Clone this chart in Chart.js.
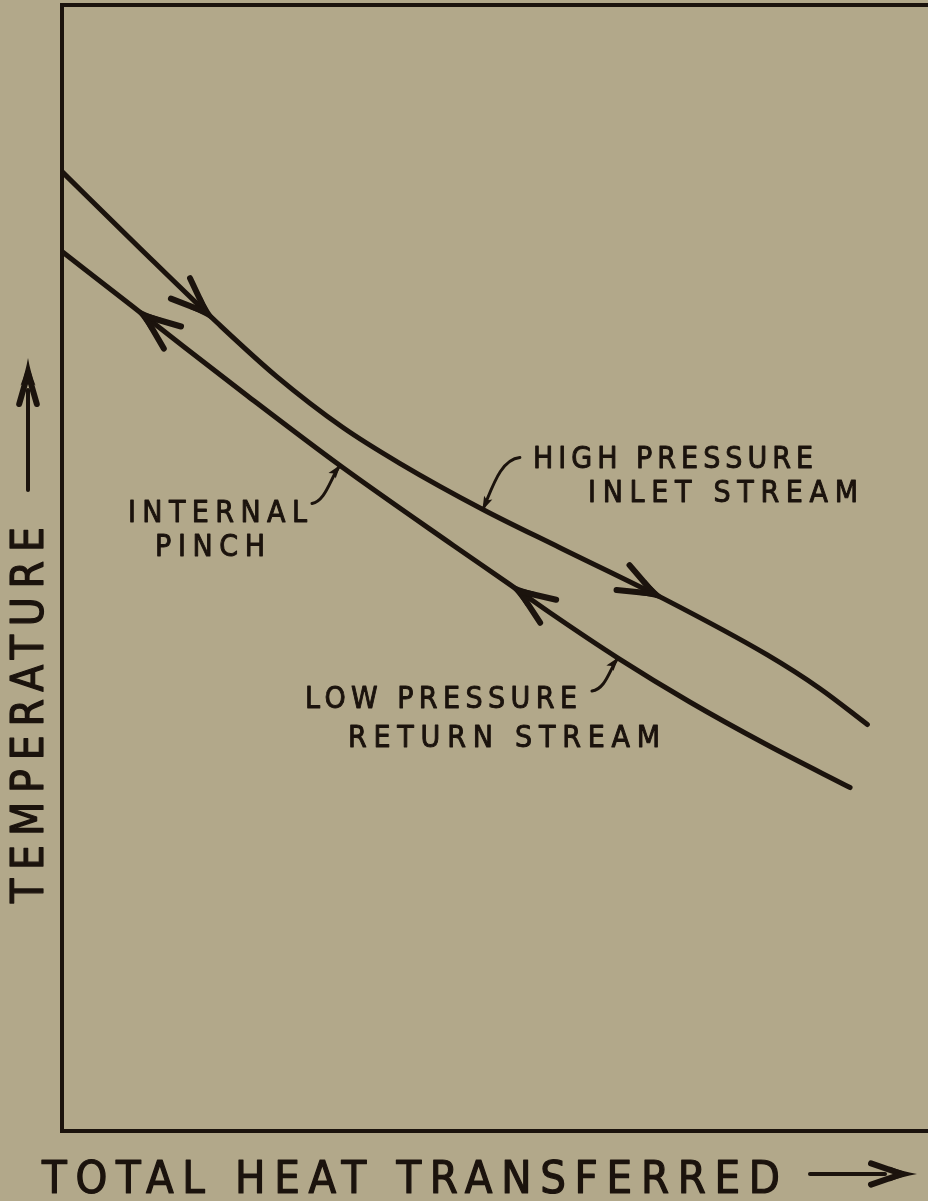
<!DOCTYPE html>
<html>
<head>
<meta charset="utf-8">
<script src="https://cdn.jsdelivr.net/npm/chart.js@4.4.1/dist/chart.umd.min.js"></script>
<style>
  html, body { margin: 0; padding: 0; background: #b2a88a; }
  #wrap { position: relative; width: 928px; height: 1201px; }
</style>
</head>
<body>
<div id="wrap"><canvas id="chart"></canvas></div>
<script>
// Data (relative units: heat transferred 0-100, temperature 0-100)
const highX = [0, 9.0, 17.9, 24.8, 32.4, 39.0, 48.6, 57.5, 69.4, 81.4, 87.5, 93.0];
const highY = [85.2, 78.4, 71.8, 67.0, 62.5, 59.3, 55.2, 51.8, 47.3, 42.3, 39.3, 36.1];
const lowX = [0, 8.2, 14.0, 21.4, 32.1, 45.2, 51.4, 56.4, 64.2, 72.5, 81.4, 91.0];
const lowY = [78.1, 73.2, 69.7, 65.3, 59.1, 52.0, 48.7, 46.0, 42.0, 38.1, 34.3, 30.5];

const xTitle = "TOTAL HEAT TRANSFERRED";
const yTitle = "TEMPERATURE";

// flow arrows: series, x position of the tip, direction (+1 = towards larger x)
const flowArrows = [
  { series: 0, x: 17.9, dir: 1 },
  { series: 0, x: 69.9, dir: 1 },
  { series: 1, x: 8.2, dir: -1 },
  { series: 1, x: 51.4, dir: -1 },
];

// labels with leader pointing to a curve
const callouts = [
  { lines: ["HIGH PRESSURE", "INLET STREAM"], box: [[533, 468, 280], [588, 502, 270]],
    series: 0, x: 48.6, leader: [[37, -52], [17, -50], [9, -20]] },
  { lines: ["INTERNAL", "PINCH"], box: [[128, 522, 179], [155, 556, 110]],
    series: 1, x: 32.1, leader: [[-28, 38], [-14, 35], [-10, 13]] },
  { lines: ["LOW PRESSURE", "RETURN STREAM"], box: [[305, 708, 272], [348, 747, 312]],
    series: 1, x: 64.2, leader: [[-26, 33], [-12, 31], [-8, 10]] },
];

const INK = "#1b130d";
const FONT = '"DejaVu Sans Condensed", "DejaVu Sans", sans-serif';
const seriesData = [[highX, highY], [lowX, lowY]];

const toPoints = (xs, ys) => xs.map((x, i) => ({ x, y: ys[i] }));

const yAt = (series, x) => {
  const [xs, ys] = seriesData[series];
  for (let i = 0; i < xs.length - 1; i++) {
    if (x >= xs[i] && x <= xs[i + 1]) {
      const t = (x - xs[i]) / (xs[i + 1] - xs[i]);
      return ys[i] + t * (ys[i + 1] - ys[i]);
    }
  }
  return ys[ys.length - 1];
};

// text stretched to a given width with letter spacing, slightly thickened
const drawFitted = (ctx, text, x, y, width, size, weight) => {
  ctx.font = size + "px " + FONT;
  ctx.letterSpacing = "0px";
  const w = ctx.measureText(text).width;
  const sp = (width - w) / (text.length - 1);
  ctx.letterSpacing = sp + "px";
  ctx.textBaseline = "alphabetic";
  ctx.textAlign = "left";
  ctx.fillText(text, x, y);
  ctx.lineWidth = weight;
  ctx.lineJoin = "round";
  ctx.strokeText(text, x, y);
  ctx.letterSpacing = "0px";
};

// feathered arrow head, tip at (0,0) pointing along +x
const drawHead = (ctx, x, y, ang, s, spread) => {
  ctx.save();
  ctx.translate(x, y);
  ctx.rotate(ang);
  ctx.beginPath();
  ctx.moveTo(2, 0);
  ctx.quadraticCurveTo(-s * 0.3, -s * 0.06, -s * 0.58, -s * 0.17);
  ctx.lineTo(-s * 0.45, 0);
  ctx.lineTo(-s * 0.58, s * 0.17);
  ctx.quadraticCurveTo(-s * 0.3, s * 0.06, 2, 0);
  ctx.closePath();
  ctx.fill();
  ctx.lineWidth = 6;
  ctx.lineCap = "round";
  [-1, 1].forEach((k) => {
    ctx.beginPath();
    ctx.moveTo(-s * 0.3, 0);
    ctx.quadraticCurveTo(-s * 0.72, k * s * spread * 0.6, -s, k * s * spread);
    ctx.stroke();
  });
  ctx.restore();
};

const annotate = {
  id: "annotate",
  beforeDatasetsDraw(chart) {
    const { ctx, chartArea: a } = chart;
    ctx.save();
    ctx.strokeStyle = INK;
    ctx.lineWidth = 4;
    ctx.beginPath();
    ctx.moveTo(chart.width + 5, a.top);
    ctx.lineTo(a.left, a.top);
    ctx.lineTo(a.left, a.bottom);
    ctx.lineTo(chart.width + 5, a.bottom);
    ctx.stroke();
    ctx.restore();
  },
  afterDatasetsDraw(chart) {
    const { ctx } = chart;
    const xs = chart.scales.x, ys = chart.scales.y;
    const px = (s, x) => [xs.getPixelForValue(x), ys.getPixelForValue(yAt(s, x))];
    ctx.save();
    ctx.fillStyle = INK;
    ctx.strokeStyle = INK;

    flowArrows.forEach((f) => {
      const [tx, ty] = px(f.series, f.x);
      const [ax, ay] = px(f.series, f.x - 2);
      const [bx, by] = px(f.series, f.x + 2);
      let ang = Math.atan2(by - ay, bx - ax);
      if (f.dir < 0) ang += Math.PI;
      drawHead(ctx, tx, ty, ang, 50, 0.28);
    });

    callouts.forEach((c) => {
      c.lines.forEach((t, i) => {
        const [x, y, w] = c.box[i];
        drawFitted(ctx, t, x, y, w, 30, 0.9);
      });
      const [ex, ey] = px(c.series, c.x);
      const [s, c1, c2] = c.leader;
      ctx.lineWidth = 3;
      ctx.lineCap = "round";
      ctx.beginPath();
      ctx.moveTo(ex + s[0], ey + s[1]);
      ctx.bezierCurveTo(ex + c1[0], ey + c1[1], ex + c2[0], ey + c2[1], ex, ey);
      ctx.stroke();
      const ang = Math.atan2(-c2[1], -c2[0]);
      ctx.save();
      ctx.translate(ex, ey);
      ctx.rotate(ang);
      ctx.beginPath();
      ctx.moveTo(1, 0);
      ctx.lineTo(-13, -4.5);
      ctx.lineTo(-10, 0);
      ctx.lineTo(-13, 4.5);
      ctx.closePath();
      ctx.fill();
      ctx.restore();
    });

    // axis titles
    drawFitted(ctx, xTitle, 42, 1193, 738, 45, 1.2);
    ctx.lineWidth = 4;
    ctx.beginPath();
    ctx.moveTo(810, 1174);
    ctx.lineTo(885, 1174);
    ctx.stroke();
    drawHead(ctx, 915, 1174, 0, 44, 0.24);

    ctx.save();
    ctx.translate(43, 903);
    ctx.rotate(-Math.PI / 2);
    drawFitted(ctx, yTitle, 0, 0, 376, 44, 1.2);
    ctx.restore();
    ctx.lineWidth = 4;
    ctx.beginPath();
    ctx.moveTo(28, 490);
    ctx.lineTo(28, 390);
    ctx.stroke();
    drawHead(ctx, 28, 360, -Math.PI / 2, 44, 0.2);
    ctx.restore();
  },
};

const lineStyle = {
  showLine: true,
  borderColor: INK,
  borderWidth: 5,
  pointRadius: 0,
  cubicInterpolationMode: "monotone",
  borderCapStyle: "round",
  fill: false,
};

new Chart(document.getElementById("chart"), {
  type: "scatter",
  data: {
    datasets: [
      { label: "High pressure inlet stream", data: toPoints(highX, highY), ...lineStyle },
      { label: "Low pressure return stream", data: toPoints(lowX, lowY), ...lineStyle },
    ],
  },
  options: {
    responsive: true,
    maintainAspectRatio: false,
    animation: false,
    layout: { padding: { left: 62, top: 5, right: 0, bottom: 70 } },
    plugins: { legend: { display: false }, tooltip: { enabled: false } },
    scales: {
      x: { type: "linear", min: 0, max: 100, display: false },
      y: { type: "linear", min: 0, max: 100, display: false },
    },
  },
  plugins: [annotate],
});
</script>
</body>
</html>
